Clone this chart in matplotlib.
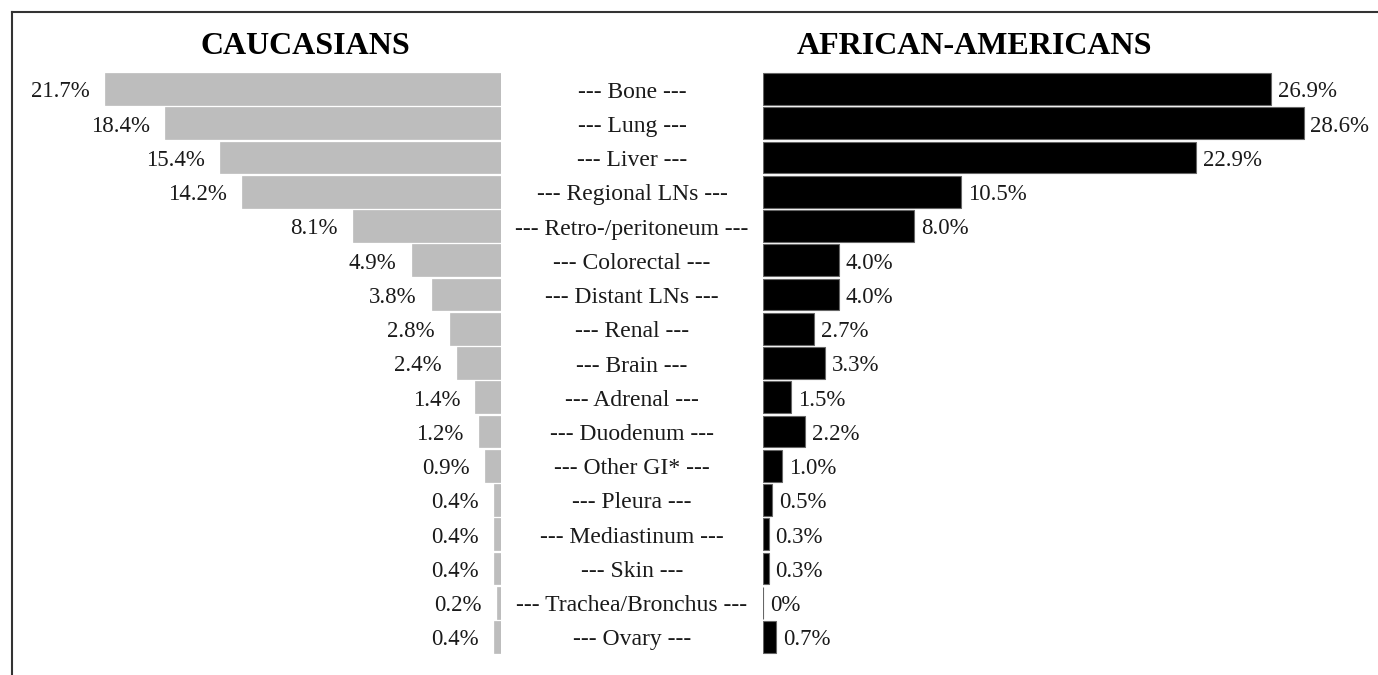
import matplotlib.pyplot as plt
from matplotlib.lines import Line2D

sites = ["Bone", "Lung", "Liver", "Regional LNs", "Retro-/peritoneum",
         "Colorectal", "Distant LNs", "Renal", "Brain", "Adrenal",
         "Duodenum", "Other GI*", "Pleura", "Mediastinum", "Skin",
         "Trachea/Bronchus", "Ovary"]
caucasians = [21.7, 18.4, 15.4, 14.2, 8.1, 4.9, 3.8, 2.8, 2.4, 1.4,
              1.2, 0.9, 0.4, 0.4, 0.4, 0.2, 0.4]
african_americans = [26.9, 28.6, 22.9, 10.5, 8.0, 4.0, 4.0, 2.7, 3.3, 1.5,
                     2.2, 1.0, 0.5, 0.3, 0.3, 0, 0.7]

plt.rcParams['font.family'] = ['Liberation Serif', 'DejaVu Serif']
W, H = 1378, 675
fig = plt.figure(figsize=(W / 100, H / 100), dpi=100)

# pixel geometry
row0, step = 89, 34.25
y_top = row0 - step
y_bot = row0 + 17 * step
ax_b = (H - y_bot) / H
ax_h = (y_bot - y_top) / H

axL = fig.add_axes([12 / W, ax_b, (501 - 12) / W, ax_h])
axR = fig.add_axes([763 / W, ax_b, (W - 763) / W, ax_h])

rows = list(range(len(sites)))
txt = '#1a1a1a'

axL.barh(rows, caucasians, height=0.92, color='#bdbdbd', edgecolor='#bdbdbd', linewidth=0.5)
axL.set_xlim((501 - 12) / 18.25, 0)
for r, v in zip(rows, caucasians):
    axL.annotate(f"{v}%", (v, r), xytext=(-11, -2), textcoords='offset points',
                 ha='right', va='center', fontsize=16.5, color=txt)

axR.barh(rows, african_americans, height=0.92, color='black', edgecolor='#666666', linewidth=0.8)
axR.set_xlim(0, (W - 763) / 18.9)
for r, v in zip(rows, african_americans):
    lab = "0%" if v == 0 else f"{v}%"
    axR.annotate(lab, (v, r), xytext=(5, -2), textcoords='offset points',
                 ha='left', va='center', fontsize=16.5, color=txt)

for ax in (axL, axR):
    ax.set_ylim(len(sites), -1)
    ax.axis('off')

# centre labels
for r, s in zip(rows, sites):
    y = 1 - (row0 + r * step + 3) / H
    fig.text(632 / W, y, f"--- {s} ---", ha='center', va='center', fontsize=17, color=txt)

fig.text(305 / W, 1 - 46 / H, "CAUCASIANS", ha='center', va='center',
         fontsize=23, fontweight='bold', color='black')
fig.text(975 / W, 1 - 46 / H, "AFRICAN-AMERICANS", ha='center', va='center',
         fontsize=23, fontweight='bold', color='black')

# frame lines
fig.add_artist(Line2D([12 / W, 1], [1 - 12 / H, 1 - 12 / H], color='#333333', lw=1.5))
fig.add_artist(Line2D([12 / W, 12 / W], [0, 1 - 12 / H], color='#333333', lw=1.5))

fig.savefig('out.png', dpi=100)
